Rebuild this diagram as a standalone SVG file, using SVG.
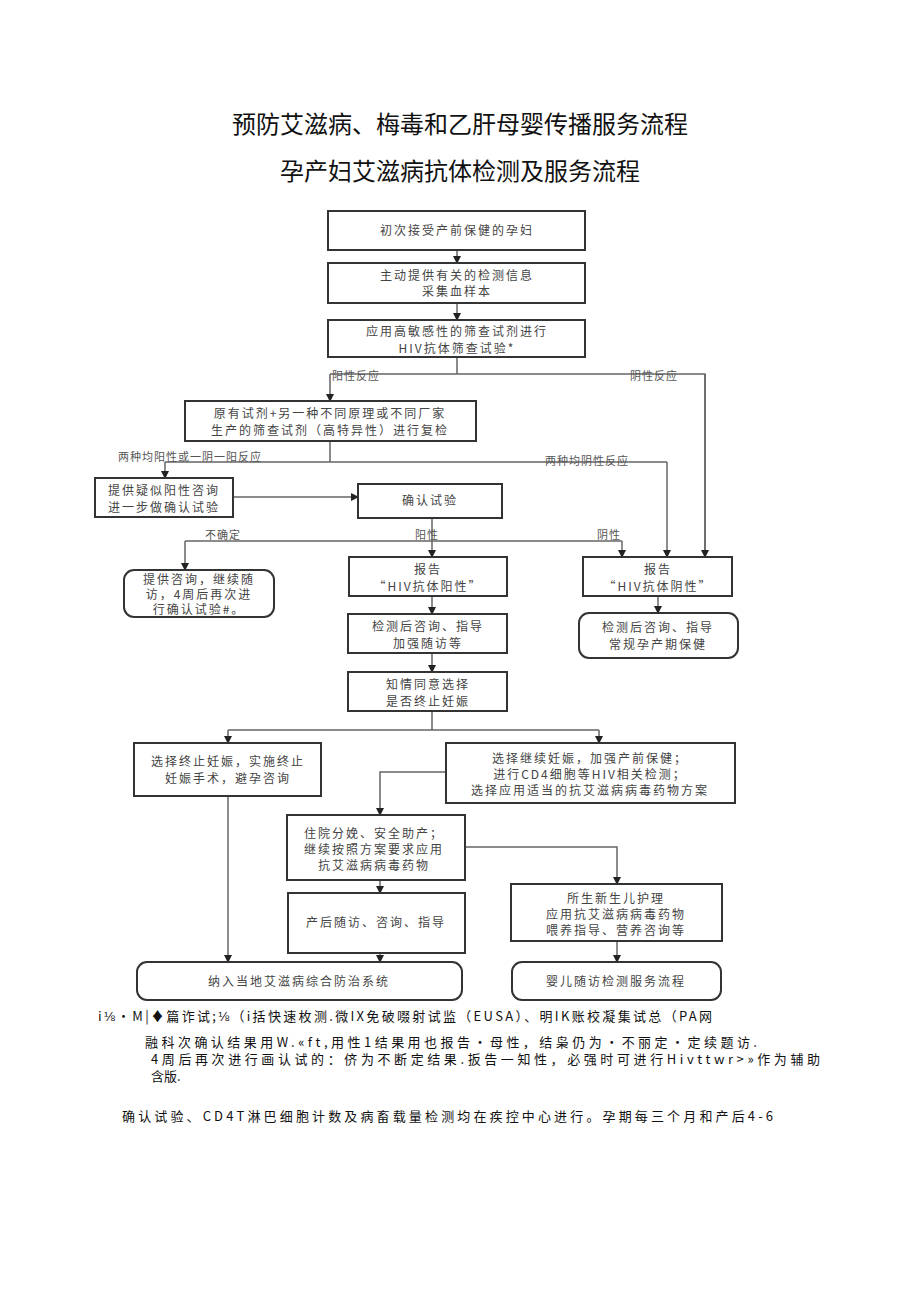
<svg xmlns="http://www.w3.org/2000/svg" width="920" height="1301" viewBox="0 0 920 1301">
<style>
.b{fill:#fff;stroke:#333;stroke-width:2}
.t{fill:#444;font-family:"Noto Sans CJK SC",sans-serif;font-size:12px;letter-spacing:2px;text-anchor:middle}
.l{fill:#555;font-family:"Noto Sans CJK SC",sans-serif;font-size:11px;letter-spacing:1px}
.c{fill:none;stroke:#666;stroke-width:1.5}
.h{font-family:"Noto Sans CJK SC",sans-serif;font-size:24px;fill:#111;text-anchor:middle}
.f{font-family:"Noto Sans CJK SC",sans-serif;font-size:13px;fill:#111}
</style>
<defs><marker id="a" markerWidth="8" markerHeight="8" refX="7" refY="4" orient="auto" markerUnits="userSpaceOnUse"><path d="M0,0L8,4L0,8Z" fill="#222"/></marker></defs>
<rect width="920" height="1301" fill="#fff"/>
<text class="h" x="460" y="133">预防艾滋病、梅毒和乙肝母婴传播服务流程</text>
<text class="h" x="460" y="180">孕产妇艾滋病抗体检测及服务流程</text>
<g id="connectors">
<path class="c" d="M457,250V263" marker-end="url(#a)"/>
<path class="c" d="M457,303V320" marker-end="url(#a)"/>
<path class="c" d="M457,357V374M330,374H705V557M330,374V401" marker-end="url(#a)"/>
<path class="c" d="M705,374V557" marker-end="url(#a)"/>
<path class="c" d="M330,441V462M165,462H667M165,462V478" marker-end="url(#a)"/>
<path class="c" d="M667,462V557" marker-end="url(#a)"/>
<path class="c" d="M233,497H358" stroke-width="3" marker-end="url(#a)"/>
<path class="c" d="M432,518V541M185,541H622M185,541V570" marker-end="url(#a)"/>
<path class="c" d="M432,541V557" marker-end="url(#a)"/>
<path class="c" d="M622,541V557" marker-end="url(#a)"/>
<path class="c" d="M432,596V614" marker-end="url(#a)"/>
<path class="c" d="M658,596V613" marker-end="url(#a)"/>
<path class="c" d="M432,653V672" marker-end="url(#a)"/>
<path class="c" d="M432,711V730M228,730H599M228,730V743" marker-end="url(#a)"/>
<path class="c" d="M599,730V743" marker-end="url(#a)"/>
<path class="c" d="M446,772H380V815" marker-end="url(#a)"/>
<path class="c" d="M465,847H617V884" marker-end="url(#a)"/>
<path class="c" d="M228,796V962" marker-end="url(#a)"/>
<path class="c" d="M380,880V893" marker-end="url(#a)"/>
<path class="c" d="M380,953V962" marker-end="url(#a)"/>
<path class="c" d="M617,941V962" marker-end="url(#a)"/>
<text class="l" x="332" y="380">阳性反应</text>
<text class="l" x="630" y="380">阴性反应</text>
<text class="l" x="118" y="461">两种均阳性或一阴一阳反应</text>
<text class="l" x="545" y="465">两种均阴性反应</text>
<text class="l" x="205" y="539">不确定</text>
<text class="l" x="415" y="539">阳性</text>
<text class="l" x="597" y="539">阴性</text>
</g>
<g id="n1"><rect class="b" x="328" y="211" width="257" height="39"/><text class="t" x="457" y="235">初次接受产前保健的孕妇</text></g>
<g id="n2"><rect class="b" x="328" y="263" width="257" height="40"/><text class="t" x="457" y="280">主动提供有关的检测信息</text><text class="t" x="457" y="296">采集血样本</text></g>
<g id="n3"><rect class="b" x="328" y="320" width="257" height="37" stroke-width="2.5"/><text class="t" x="457" y="336">应用高敏感性的筛查试剂进行</text><text class="t" x="457" y="353">HIV抗体筛查试验*</text></g>
<g id="n4"><rect class="b" x="185" y="401" width="291" height="40"/><text class="t" x="330" y="418">原有试剂+另一种不同原理或不同厂家</text><text class="t" x="330" y="435">生产的筛查试剂（高特异性）进行复检</text></g>
<g id="n5"><rect class="b" x="95" y="478" width="138" height="39"/><text class="t" x="164" y="495">提供疑似阳性咨询</text><text class="t" x="164" y="512">进一步做确认试验</text></g>
<g id="n6"><rect class="b" x="358" y="484" width="144" height="34"/><text class="t" x="430" y="505">确认试验</text></g>
<g id="n7"><rect class="b" x="124" y="570" width="150" height="47" rx="10" stroke-width="1.5"/><text class="t" x="199" y="584">提供咨询，继续随</text><text class="t" x="199" y="599">访，4周后再次进</text><text class="t" x="199" y="614">行确认试验#。</text></g>
<g id="n8"><rect class="b" x="349" y="557" width="158" height="39"/><text class="t" x="428" y="574">报告</text><text class="t" x="428" y="591">“HIV抗体阳性”</text></g>
<g id="n9"><rect class="b" x="583" y="557" width="149" height="39"/><text class="t" x="658" y="574">报告</text><text class="t" x="658" y="591">“HIV抗体阴性”</text></g>
<g id="n10"><rect class="b" x="348" y="614" width="159" height="39"/><text class="t" x="428" y="631">检测后咨询、指导</text><text class="t" x="428" y="648">加强随访等</text></g>
<g id="n11"><rect class="b" x="579" y="613" width="159" height="45" rx="10" stroke-width="1.5"/><text class="t" x="658" y="632">检测后咨询、指导</text><text class="t" x="658" y="649">常规孕产期保健</text></g>
<g id="n12"><rect class="b" x="348" y="672" width="159" height="39"/><text class="t" x="428" y="689">知情同意选择</text><text class="t" x="428" y="706">是否终止妊娠</text></g>
<g id="n13"><rect class="b" x="134" y="743" width="187" height="53"/><text class="t" x="228" y="766">选择终止妊娠，实施终止</text><text class="t" x="228" y="783">妊娠手术，避孕咨询</text></g>
<g id="n14"><rect class="b" x="446" y="743" width="289" height="60"/><text class="t" x="590" y="763">选择继续妊娠，加强产前保健；</text><text class="t" x="590" y="779">进行CD4细胞等HIV相关检测；</text><text class="t" x="590" y="795">选择应用适当的抗艾滋病病毒药物方案</text></g>
<g id="n15"><rect class="b" x="287" y="815" width="178" height="65"/><text class="t" x="374" y="838">住院分娩、安全助产；</text><text class="t" x="374" y="854">继续按照方案要求应用</text><text class="t" x="374" y="870">抗艾滋病病毒药物</text></g>
<g id="n16"><rect class="b" x="511" y="884" width="211" height="57"/><text class="t" x="616" y="903">所生新生儿护理</text><text class="t" x="616" y="919">应用抗艾滋病病毒药物</text><text class="t" x="616" y="935">喂养指导、营养咨询等</text></g>
<g id="n17"><rect class="b" x="288" y="893" width="177" height="60"/><text class="t" x="376" y="927">产后随访、咨询、指导</text></g>
<g id="n18"><rect class="b" x="137" y="962" width="325" height="38" rx="10" stroke-width="1.5"/><text class="t" x="299" y="986">纳入当地艾滋病综合防治系统</text></g>
<g id="n19"><rect class="b" x="512" y="962" width="209" height="38" rx="10" stroke-width="1.5"/><text class="t" x="616" y="986">婴儿随访检测服务流程</text></g>
<text class="f" x="98" y="1021" textLength="614" lengthAdjust="spacing">i⅛•M|♦篇诈试;⅛（i括快速枚测.微IX免破啜射试监（EUSA）、明IK账校凝集试总（PA网</text>
<text class="f" x="145" y="1047" textLength="612" lengthAdjust="spacing">融科次确认结果用W.«ft,用性1结果用也报告・母性，结枭仍为•不丽定•定续题访.</text>
<text class="f" x="151" y="1064" textLength="669" lengthAdjust="spacing">4周后再次进行画认试的：侪为不断定结果.扳告一知性，必强时可进行Hivttwr>»作为辅助</text>
<text class="f" x="151" y="1081">含版.</text>
<text class="f" x="122" y="1121" textLength="651" lengthAdjust="spacing">确认试验、CD4T淋巴细胞计数及病畜载量检测均在疾控中心进行。孕期每三个月和产后4-6</text>
</svg>
